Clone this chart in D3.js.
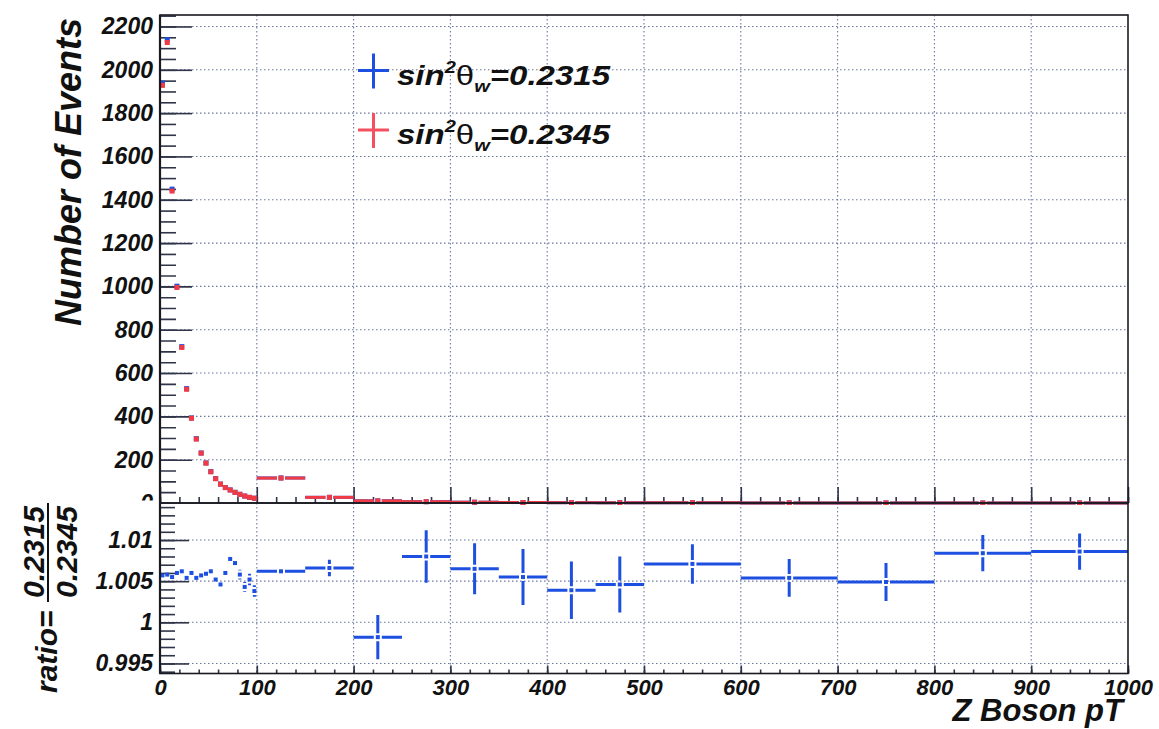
<!DOCTYPE html>
<html>
<head>
<meta charset="utf-8">
<script src="https://cdn.jsdelivr.net/npm/d3@7"></script>
<style>
  body { margin: 0; background: #fff; }
  text { font-family: "Liberation Sans", Arial, sans-serif; font-weight: bold; font-style: italic; fill: #111; }
</style>
</head>
<body>
<div id="chart"></div>
<script>
const binEdges = [0, 5, 10, 15, 20, 25, 30, 35, 40, 45, 50, 55, 60, 65, 70, 75, 80, 85, 90, 95, 100,
  150, 200, 250, 300, 350, 400, 450, 500, 600, 700, 800, 900, 1000];
const countsBlue = [1939, 2139, 1449, 1001, 722, 528, 393, 297, 231, 185, 145, 113, 87.5, 71.4, 60.5, 49.4, 40.2, 32.1, 26.1, 22.1,
  115.7, 26.2, 10.0, 6.05, 3.52, 2.31, 1.51, 1.0, 1.21, 0.5, 0.25, 0.12, 0.06];
const countsRed = [1928, 2126, 1440, 995, 718, 525, 391, 295, 230, 184, 144, 112, 87, 71, 60, 49, 40, 32, 26, 22,
  115, 26, 10, 6, 3.5, 2.3, 1.5, 1.0, 1.2, 0.5, 0.25, 0.12, 0.06];
const ratioValues = [1.0057, 1.0058, 1.0055, 1.0060, 1.0062, 1.0054, 1.0060, 1.0054, 1.0057, 1.0059,
  1.0062, 1.0052, 1.0046, 1.0060, 1.0077, 1.0072, 1.0058, 1.0043, 1.0052, 1.0038,
  1.0062, 1.0066, 0.9982, 1.0080, 1.0065, 1.0055, 1.0039, 1.0046, 1.0071, 1.0054, 1.0049, 1.0084, 1.0086];
const ratioErrors = [0.0002, 0.0002, 0.0002, 0.0002, 0.0002, 0.0002, 0.0003, 0.0003, 0.0003, 0.0003,
  0.0003, 0.0004, 0.0004, 0.0004, 0.0005, 0.0005, 0.0006, 0.0006, 0.0007, 0.0007,
  0.0003, 0.0010, 0.0027, 0.0032, 0.0031, 0.0034, 0.0035, 0.0034, 0.0024, 0.0023, 0.0023, 0.0022, 0.0022];
const eventTicks = [0, 200, 400, 600, 800, 1000, 1200, 1400, 1600, 1800, 2000, 2200];
const ratioTicks = [0.995, 1.0, 1.005, 1.01];
const ptTicks = [0, 100, 200, 300, 400, 500, 600, 700, 800, 900, 1000];
const legendValues = ['0.2315', '0.2345'];

const W = 1159, H = 729;
const left = 160, right = 1128;
const upTop = 15, upBottom = 503, lowTop = 503, lowBottom = 673.5;
const blue = '#1d4fe0', red = '#f23a45';
const tickColor = '#2f3448', gridColor = '#52608f';

const svg = d3.select('#chart').append('svg')
  .attr('width', W).attr('height', H);
svg.append('rect').attr('width', W).attr('height', H).attr('fill', '#fff');

const defs = svg.append('defs');
defs.append('clipPath').attr('id', 'upperPad').append('rect')
  .attr('x', 0).attr('y', 0).attr('width', W).attr('height', 500.5);
defs.append('clipPath').attr('id', 'upperFrame').append('rect')
  .attr('x', left).attr('y', upTop).attr('width', right - left).attr('height', upBottom - upTop + 2);
defs.append('clipPath').attr('id', 'lowerTicks').append('rect')
  .attr('x', 0).attr('y', lowTop).attr('width', W).attr('height', H - lowTop);
defs.append('clipPath').attr('id', 'lowerFrame').append('rect')
  .attr('x', left).attr('y', lowTop).attr('width', right - left).attr('height', lowBottom - lowTop);

const x = d3.scaleLinear().domain([0, 1000]).range([left, right]);
const yTop = d3.scaleLinear().domain([0, 2253]).range([upBottom, upTop]);
const yRat = d3.scaleLinear().domain([0.99378, 1.0145]).range([lowBottom, lowTop]);

const bins = countsRed.map((v, i) => ({
  x0: binEdges[i], x1: binEdges[i + 1],
  blue: countsBlue[i], red: v,
  ratio: ratioValues[i], err: ratioErrors[i],
}));

const styleAxis = (g, size) => {
  g.select('.domain').remove();
  g.selectAll('.tick line').attr('stroke', tickColor).attr('stroke-width', 1.6);
  g.attr('font-family', null).attr('font-size', size);
  g.selectAll('.tick text').attr('fill', '#111');
};

// grid
const grid = svg.append('g')
  .attr('stroke', gridColor).attr('stroke-width', 1.1)
  .attr('stroke-dasharray', '1.5 2.5').attr('opacity', 0.85);
grid.selectAll('.hgTop').data(eventTicks.filter(d => d > 0)).enter().append('line')
  .attr('x1', left).attr('x2', right).attr('y1', d => yTop(d)).attr('y2', d => yTop(d));
grid.selectAll('.hgLow').data(ratioTicks).enter().append('line')
  .attr('x1', left).attr('x2', right).attr('y1', d => yRat(d)).attr('y2', d => yRat(d));
grid.selectAll('.vg').data(ptTicks.filter(d => d > 0 && d < 1000)).enter().append('line')
  .attr('x1', d => x(d)).attr('x2', d => x(d)).attr('y1', upTop).attr('y2', lowBottom);

// upper pad axes
const upper = svg.append('g').attr('clip-path', 'url(#upperPad)');
upper.append('g').attr('transform', `translate(${left},0)`)
  .call(d3.axisRight(yTop).tickValues(d3.range(0, 2251, 50)).tickSize(16).tickFormat(''))
  .call(g => styleAxis(g, 23));
upper.append('g').attr('transform', `translate(${left},0)`)
  .call(d3.axisRight(yTop).tickValues(eventTicks).tickSize(32).tickFormat(''))
  .call(g => styleAxis(g, 23));
upper.append('g').attr('transform', `translate(${left},0)`)
  .call(d3.axisLeft(yTop).tickValues(eventTicks).tickSize(0).tickPadding(7).tickFormat(d3.format('d')))
  .call(g => styleAxis(g, 23));
svg.append('g').attr('transform', `translate(0,${upBottom})`)
  .call(d3.axisTop(x).tickValues(d3.range(0, 1001, 20)).tickSize(6).tickFormat(''))
  .call(g => styleAxis(g, 23));
svg.append('g').attr('transform', `translate(0,${upBottom})`)
  .call(d3.axisTop(x).tickValues(ptTicks).tickSize(16).tickFormat(''))
  .call(g => styleAxis(g, 23));

// histogram points with x error bars
const gap = 4;
const drawHist = (key, color) => {
  const g = svg.append('g').attr('clip-path', 'url(#upperFrame)');
  bins.forEach(b => {
    const cx = x((b.x0 + b.x1) / 2), cy = yTop(b[key]);
    const segs = [[x(b.x0), cx - gap], [cx + gap, x(b.x1)]].filter(s => s[1] - s[0] > 0.5);
    g.selectAll(null).data(segs).enter().append('line')
      .attr('x1', s => s[0]).attr('x2', s => s[1]).attr('y1', cy).attr('y2', cy)
      .attr('stroke', color).attr('stroke-width', 3);
    g.append('rect').attr('x', cx - 2.5).attr('y', cy - 2.5).attr('width', 5).attr('height', 5)
      .attr('fill', color);
  });
};
drawHist('blue', blue);
drawHist('red', red);

// lower pad
const lowerTicks = svg.append('g').attr('clip-path', 'url(#lowerTicks)');
lowerTicks.append('g').attr('transform', `translate(${left},0)`)
  .call(d3.axisRight(yRat).tickValues(d3.range(0.994, 1.0146, 0.001)).tickSize(15).tickFormat(''))
  .call(g => styleAxis(g, 23));
lowerTicks.append('g').attr('transform', `translate(${left},0)`)
  .call(d3.axisRight(yRat).tickValues(ratioTicks).tickSize(29).tickFormat(''))
  .call(g => styleAxis(g, 23));
svg.append('g').attr('transform', `translate(${left},0)`)
  .call(d3.axisLeft(yRat).tickValues(ratioTicks).tickSize(0).tickPadding(7)
    .tickFormat(d => String(+d.toFixed(3))))
  .call(g => styleAxis(g, 23));
svg.append('g').attr('transform', `translate(0,${lowBottom})`)
  .call(d3.axisTop(x).tickValues(d3.range(0, 1001, 20)).tickSize(4).tickFormat(''))
  .call(g => styleAxis(g, 23));
svg.append('g').attr('transform', `translate(0,${lowBottom})`)
  .call(d3.axisTop(x).tickValues(ptTicks).tickSize(8).tickFormat(''))
  .call(g => styleAxis(g, 23));
svg.append('g').attr('transform', `translate(0,${lowBottom})`)
  .call(d3.axisBottom(x).tickValues(ptTicks).tickSize(0).tickPadding(6).tickFormat(d3.format('d')))
  .call(g => styleAxis(g, 22));

const ratioG = svg.append('g').attr('clip-path', 'url(#lowerFrame)');
bins.forEach(b => {
  const cx = x((b.x0 + b.x1) / 2), cy = yRat(b.ratio);
  const hs = [[x(b.x0), cx - gap], [cx + gap, x(b.x1)]].filter(s => s[1] - s[0] > 0.5);
  ratioG.selectAll(null).data(hs).enter().append('line')
    .attr('x1', s => s[0]).attr('x2', s => s[1]).attr('y1', cy).attr('y2', cy)
    .attr('stroke', blue).attr('stroke-width', 3);
  const vs = [[yRat(b.ratio + b.err), cy - gap], [cy + gap, yRat(b.ratio - b.err)]].filter(s => s[1] - s[0] > 0.5);
  ratioG.selectAll(null).data(vs).enter().append('line')
    .attr('x1', cx).attr('x2', cx).attr('y1', s => s[0]).attr('y2', s => s[1])
    .attr('stroke', blue).attr('stroke-width', 3);
  ratioG.append('rect').attr('x', cx - 2).attr('y', cy - 2).attr('width', 4).attr('height', 4)
    .attr('fill', blue);
});

// frames
const frame = svg.append('g').attr('fill', 'none').attr('stroke', '#1a1a22');
frame.append('rect').attr('x', left).attr('y', upTop).attr('width', right - left).attr('height', upBottom - upTop)
  .attr('stroke-width', 1.6);
frame.append('rect').attr('x', left).attr('y', lowTop).attr('width', right - left).attr('height', lowBottom - lowTop)
  .attr('stroke-width', 1.6);
frame.append('line').attr('x1', left).attr('x2', left).attr('y1', upTop).attr('y2', lowBottom).attr('stroke-width', 2.2);

// legend
const legend = svg.append('g');
[blue, '#f5505f'].forEach((c, i) => {
  const cy = i === 0 ? 70.5 : 130;
  legend.append('line').attr('x1', 358).attr('x2', 389).attr('y1', cy).attr('y2', cy)
    .attr('stroke', c).attr('stroke-width', 3);
  legend.append('line').attr('x1', 373.5).attr('x2', 373.5).attr('y1', cy - 17).attr('y2', cy + 18)
    .attr('stroke', c).attr('stroke-width', 3);
  const t = legend.append('text').attr('x', 397).attr('y', cy + 14).attr('font-size', 28);
  t.append('tspan').text('sin');
  t.append('tspan').attr('font-size', 17).attr('dy', -12).text('2');
  t.append('tspan').attr('dy', 12).style('font-style', 'normal').style('font-weight', 'normal').text('θ');
  t.append('tspan').attr('font-size', 17).attr('dy', 7).text('w');
  t.append('tspan').attr('dy', -7).text('=' + legendValues[i]);
  t.attr('textLength', 213).attr('lengthAdjust', 'spacingAndGlyphs');
});

// titles
svg.append('text')
  .attr('transform', 'translate(81,172) rotate(-90)')
  .attr('text-anchor', 'middle').attr('font-size', 36)
  .text('Number of Events');
svg.append('text')
  .attr('x', 1123).attr('y', 721)
  .attr('text-anchor', 'end').attr('font-size', 31)
  .text('Z Boson pT');
svg.append('text')
  .attr('transform', 'translate(57,693) rotate(-90)')
  .attr('font-size', 30)
  .text('ratio=');
svg.append('line').attr('x1', 48).attr('x2', 48).attr('y1', 503).attr('y2', 602)
  .attr('stroke', '#111').attr('stroke-width', 2);
svg.append('text')
  .attr('transform', 'translate(44,552) rotate(-90)')
  .attr('text-anchor', 'middle').attr('font-size', 30)
  .text(legendValues[0]);
svg.append('text')
  .attr('transform', 'translate(77,552) rotate(-90)')
  .attr('text-anchor', 'middle').attr('font-size', 30)
  .text(legendValues[1]);
</script>
</body>
</html>
